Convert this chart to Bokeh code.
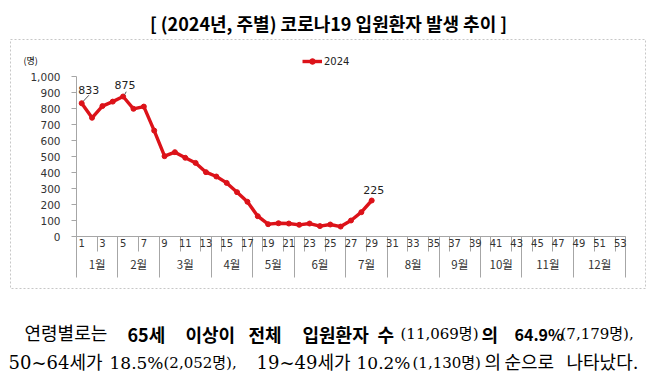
from bokeh.plotting import figure
from bokeh.models import (Range1d, LinearAxis, FixedTicker, NumeralTickFormatter, Label, LabelSet,
                          ColumnDataSource, Legend, LegendItem, BoxAnnotation, Arrow)
from bokeh.core.properties import value
from bokeh.embed import file_html
from bokeh.resources import INLINE

# ---------------- data ----------------
weeks = list(range(1, 30))
admissions_2024 = [833, 742, 815, 843, 875, 798, 812, 662, 502, 527, 492, 460, 402, 375, 335,
                   277, 217, 127, 77, 83, 81, 73, 81, 65, 75, 62, 100, 152, 225]
series_name = "2024"
week_tick_labels = list(range(1, 54, 2))
month_labels = ["1월", "2월", "3월", "4월", "5월", "6월", "7월", "8월", "9월", "10월", "11월", "12월"]
month_first_week = [1, 5, 9, 14, 18, 22, 27, 31, 36, 40, 44, 49]
month_last_week = [4, 8, 13, 17, 21, 26, 30, 35, 39, 43, 48, 53]
y_ticks = list(range(0, 1001, 100))
labelled_weeks = [1, 5, 29]

title_text = "[ (2024년, 주별) 코로나19 입원환자 발생 추이 ]"
unit_text = "(명)"

RED = "#dc1219"
GRID = "#a6a6a6"
KR = "Noto Sans CJK KR"
SERIF = "DejaVu Serif, Noto Sans CJK KR"
NUM = "DejaVu Sans"

# ---------------- layout geometry (page pixels) ----------------
W, H = 655, 381
PAGE_L, PAGE_T = 0, 0
PAGE_R, PAGE_B = PAGE_L + W, PAGE_T + H
PX0, PX1 = 76, 625      # page x of week 0.5 and 53.5
PY0, PY1 = 236, 76      # page y of value 0 and 1000
X_LO, X_HI = 0.5, 53.5
Y_LO, Y_HI = 0, 1000
kx = (PX1 - PX0) / (X_HI - X_LO)
ky = (PY0 - PY1) / (Y_HI - Y_LO)

x_range = Range1d(X_LO - (PX0 - PAGE_L) / kx, X_LO + (PAGE_R - PX0) / kx)
y_range = Range1d(Y_LO - (PAGE_B - PY0) / ky, Y_LO + (PY0 - PAGE_T) / ky)

p = figure(width=W, height=H, output_backend="svg", toolbar_location=None,
           x_range=x_range, y_range=y_range, x_axis_type=None, y_axis_type=None,
           min_border=0)
p.xgrid.visible = False
p.ygrid.visible = False
p.outline_line_color = None
p.background_fill_color = "white"
p.border_fill_color = "white"

# y axis
yax = LinearAxis(ticker=FixedTicker(ticks=y_ticks, minor_ticks=[]),
                 formatter=NumeralTickFormatter(format="0,0"), fixed_location=X_LO,
                 bounds=(Y_LO, Y_HI),
                 major_tick_out=5, major_tick_in=0, minor_tick_out=0, minor_tick_in=0,
                 major_label_standoff=11, axis_line_color=GRID, major_tick_line_color=GRID,
                 major_label_text_font=NUM, major_label_text_font_size="10.5px",
                 major_label_text_color="#333333")
p.add_layout(yax, "left")

# category separator lines (week pairs short, months long)
month_centers = [(a + b) / 2 for a, b in zip(month_first_week, month_last_week)]
month_bounds = [a - 0.5 for a in month_first_week] + [month_last_week[-1] + 0.5]
week_bounds = [w - 0.5 for w in week_tick_labels] + [X_HI]
sep_ax = LinearAxis(ticker=FixedTicker(ticks=month_bounds, minor_ticks=week_bounds),
                    fixed_location=Y_LO, bounds=(X_LO, X_HI),
                    major_tick_out=41, major_tick_in=0, minor_tick_out=15, minor_tick_in=0,
                    major_tick_line_color=GRID, minor_tick_line_color=GRID, axis_line_color=GRID,
                    major_label_text_alpha=0, major_label_text_font_size="1px")
p.add_layout(sep_ax, "below")

# week labels
wax = LinearAxis(ticker=FixedTicker(ticks=week_tick_labels, minor_ticks=[]), fixed_location=Y_LO,
                 major_tick_out=0, major_tick_in=0, minor_tick_out=0, minor_tick_in=0,
                 axis_line_color=None, major_label_standoff=2, major_label_text_font=NUM,
                 major_label_text_font_size="10px", major_label_text_color="#333333")
p.add_layout(wax, "below")

# month labels
max_ = LinearAxis(ticker=FixedTicker(ticks=month_centers, minor_ticks=[]), fixed_location=Y_LO,
                  major_label_overrides={c: m for c, m in zip(month_centers, month_labels)},
                  major_tick_out=0, major_tick_in=0, minor_tick_out=0, minor_tick_in=0,
                  axis_line_color=None, major_label_standoff=19, major_label_text_font=KR,
                  major_label_text_font_size="11.5px", major_label_text_color="#333333")
p.add_layout(max_, "below")

# series
src = ColumnDataSource(dict(week=weeks, count=admissions_2024))
ln = p.line("week", "count", source=src, line_color=RED, line_width=3.4)
sc = p.scatter("week", "count", source=src, size=5, color=RED)

# data labels
idx = [weeks.index(w) for w in labelled_weeks]
lab_src = ColumnDataSource(dict(week=[weeks[i] for i in idx],
                                count=[admissions_2024[i] for i in idx],
                                text=[f"{admissions_2024[i]}" for i in idx],
                                dx=[7, 2, 2], dy=[13, 12, 11]))
p.add_layout(LabelSet(x="week", y="count", text="text", x_offset="dx", y_offset="dy", source=lab_src,
                      text_align="center", text_baseline="middle", text_font=value(NUM),
                      text_font_size="11px", text_color="#222222"))
# leader lines
for i, (ex, ey) in zip(idx[:2], [(0.7, 50), (0.3, 30)]):
    w, v = weeks[i], admissions_2024[i]
    p.add_layout(Arrow(end=None, x_start=w + 0.15, y_start=v + 12, x_end=w + ex, y_end=v + ey,
                       line_color="#555555", line_width=1))


def sx(px):
    return px - PAGE_L


def sy(py):
    return PAGE_B - py


# legend (location = bottom-left corner)
legend = Legend(items=[LegendItem(label=series_name, renderers=[ln, sc])],
                location=(sx(302), sy(68)),
                background_fill_alpha=0, border_line_color=None, padding=0, margin=0, spacing=0,
                glyph_width=20, glyph_height=14, label_height=14, label_standoff=2,
                label_text_font=NUM, label_text_font_size="10px", label_text_color="#222222")
p.add_layout(legend)


def txt(px, py, s, size="18px", bold=False, align="left", font=KR):
    p.add_layout(Label(x=sx(px), y=sy(py), x_units="screen", y_units="screen", text=s,
                       text_align=align, text_baseline="middle", text_font=font,
                       text_font_style="bold" if bold else "normal", text_font_size=size,
                       text_color="#000000"))


# dashed frame box
p.add_layout(BoxAnnotation(left=sx(10), right=sx(645), top=sy(39), bottom=sy(288),
                           left_units="screen", right_units="screen", top_units="screen",
                           bottom_units="screen", fill_alpha=0, line_color="#444444",
                           line_dash="2 2", line_width=1))

txt(328, 22, title_text, size="18px", bold=True, align="center")
txt(23, 60, unit_text, size="9px")

# body text line 1
y1 = 333
txt(24, y1, "연령별로는", font=SERIF)
txt(127, y1, "65세", bold=True)
txt(185, y1, "이상이", bold=True)
txt(248, y1, "전체", bold=True)
txt(302, y1, "입원환자", bold=True)
txt(377, y1, "수", bold=True)
txt(400, y1, "(11,069명)", size="15px", font=SERIF)
txt(481, y1, "의", bold=True)
txt(514, y1, "64.9%", size="16px", bold=True)
txt(560, y1, "(7,179명),", size="15px", font=SERIF)
# body text line 2
y2 = 362
txt(8, y2, "50~64세가", font=SERIF)
txt(109, y2, "18.5%", size="17px", font=SERIF)
txt(163, y2, "(2,052명),", size="15px", font=SERIF)
txt(256, y2, "19~49세가", font=SERIF)
txt(356, y2, "10.2%", size="17px", font=SERIF)
txt(412, y2, "(1,130명)", size="15px", font=SERIF)
txt(484, y2, "의", font=SERIF)
txt(504, y2, "순으로", font=SERIF)
txt(566, y2, "나타났다.", font=SERIF)

open("out.html", "w").write(file_html(p, INLINE))
